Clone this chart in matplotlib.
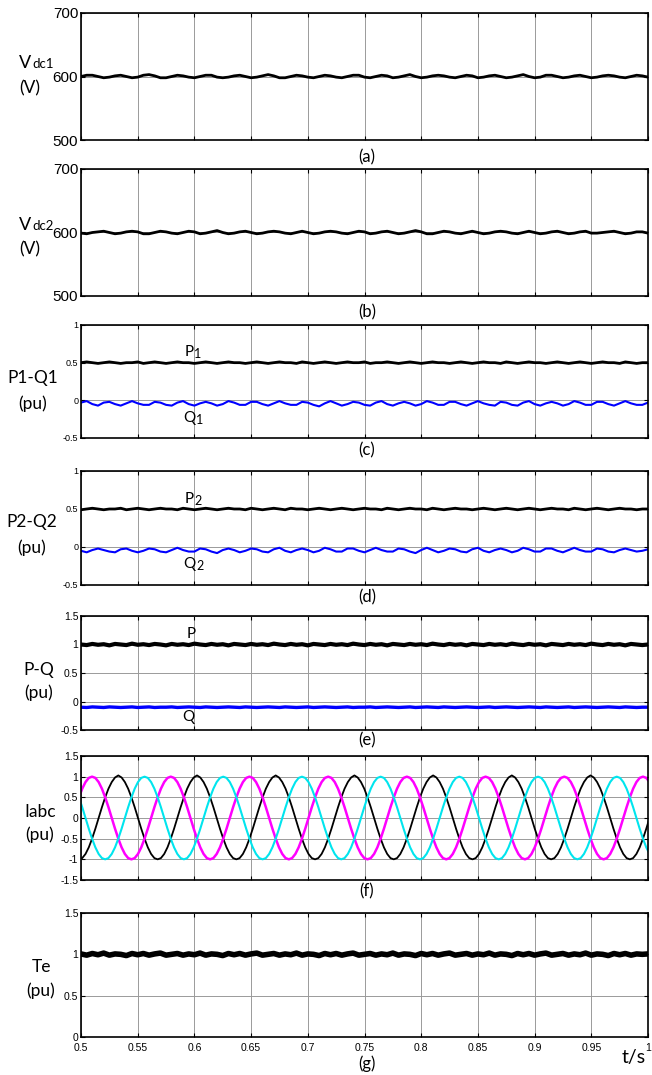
import numpy as np
import matplotlib
matplotlib.use('Agg')
import matplotlib.pyplot as plt

plt.rcParams['font.family'] = ['Liberation Sans', 'DejaVu Sans']

# ---------------- data ----------------
t_start, t_end = 0.5, 1.0
x_ticks = [0.5, 0.55, 0.6, 0.65, 0.7, 0.75, 0.8, 0.85, 0.9, 0.95, 1.0]
x_tick_labels = ['0.5', '0.55', '0.6', '0.65', '0.7', '0.75', '0.8', '0.85', '0.9', '0.95', '1']

vdc1 = [600,602,602,600,598, 599,601,602,600,598, 599,602,603,601,598, 598,600,602,601,599,
        598,600,602,602,599, 598,599,601,602,600, 598,599,601,603,601, 598,598,600,602,601,
        599,598,600,602,601, 599,598,600,602,602, 599,598,600,602,601, 598,599,601,603,600,
        598,599,601,602,601, 599,598,600,602,601, 598,599,601,602,600, 598,599,601,603,600,
        598,599,602,602,600, 598,599,601,602,600, 598,599,601,602,601, 599,598,600,602,601,
        599]
vdc2 = [599,598,600,601,602, 600,598,599,601,602, 601,598,598,600,602, 601,599,598,600,602,
        601,598,599,601,603, 600,598,599,601,602, 600,598,599,601,602, 601,599,598,600,602,
        600,598,599,601,602, 601,599,598,600,602, 601,598,599,601,602, 600,598,599,601,603,
        601,598,598,600,602, 601,599,598,600,602, 600,598,599,601,602, 601,599,598,600,602,
        600,598,599,601,602, 600,598,599,601,602, 599,599,600,601,602, 600,598,599,601,601,
        599]
p1 = [0.50,0.51,0.50,0.49,0.50,0.51,0.50,0.49,0.50,0.50,
      0.51,0.49,0.50,0.51,0.50,0.49,0.50,0.51,0.50,0.50,
      0.49,0.50,0.51,0.50,0.49,0.50,0.51,0.50,0.50,0.49,
      0.50,0.51,0.50,0.49,0.50,0.51,0.50,0.50,0.49,0.51,
      0.50,0.49,0.50,0.51,0.50,0.49,0.50,0.51,0.50,0.50,
      0.51,0.49,0.50,0.50,0.51,0.50,0.49,0.50,0.51,0.50,
      0.49,0.50,0.51,0.50,0.50,0.49,0.50,0.51,0.50,0.49,
      0.50,0.51,0.50,0.50,0.49,0.51,0.50,0.49,0.50,0.51,
      0.50,0.50,0.49,0.50,0.51,0.50,0.49,0.50,0.51,0.50,
      0.49,0.50,0.51,0.50,0.50,0.49,0.51,0.50,0.49,0.50,
      0.50]
q1 = [-0.03,-0.01,-0.05,-0.07,-0.03,-0.02,-0.05,-0.07,-0.04,-0.01,
      -0.04,-0.06,-0.06,-0.02,-0.03,-0.06,-0.07,-0.03,-0.01,-0.05,
      -0.07,-0.04,-0.02,-0.04,-0.07,-0.05,-0.01,-0.03,-0.06,-0.06,
      -0.02,-0.02,-0.05,-0.07,-0.04,-0.01,-0.04,-0.06,-0.06,-0.02,
      -0.03,-0.06,-0.08,-0.04,-0.01,-0.04,-0.07,-0.05,-0.02,-0.03,
      -0.06,-0.07,-0.03,-0.01,-0.05,-0.07,-0.04,-0.02,-0.04,-0.07,
      -0.05,-0.01,-0.03,-0.06,-0.06,-0.02,-0.02,-0.05,-0.07,-0.04,
      -0.01,-0.04,-0.06,-0.07,-0.02,-0.03,-0.06,-0.07,-0.03,-0.01,
      -0.05,-0.07,-0.04,-0.02,-0.04,-0.07,-0.05,-0.01,-0.03,-0.06,
      -0.06,-0.02,-0.02,-0.05,-0.07,-0.04,-0.01,-0.04,-0.06,-0.06,
      -0.03]
p2 = [0.49,0.50,0.51,0.50,0.49,0.50,0.50,0.51,0.49,0.50,
      0.51,0.50,0.49,0.50,0.51,0.50,0.50,0.49,0.51,0.50,
      0.49,0.50,0.51,0.50,0.49,0.50,0.51,0.50,0.50,0.49,
      0.51,0.50,0.49,0.50,0.51,0.50,0.49,0.51,0.50,0.50,
      0.49,0.50,0.51,0.50,0.49,0.50,0.51,0.50,0.49,0.50,
      0.51,0.50,0.50,0.49,0.51,0.50,0.49,0.50,0.51,0.50,
      0.50,0.49,0.51,0.50,0.49,0.50,0.51,0.50,0.50,0.49,
      0.50,0.51,0.50,0.49,0.50,0.51,0.50,0.49,0.50,0.51,
      0.50,0.49,0.50,0.51,0.50,0.50,0.49,0.51,0.50,0.49,
      0.50,0.51,0.50,0.49,0.50,0.51,0.50,0.50,0.49,0.50,
      0.50]
q2 = [-0.05,-0.07,-0.04,-0.02,-0.04,-0.06,-0.07,-0.03,-0.02,-0.05,
      -0.07,-0.05,-0.02,-0.03,-0.06,-0.07,-0.04,-0.01,-0.04,-0.06,
      -0.06,-0.02,-0.03,-0.06,-0.08,-0.04,-0.02,-0.04,-0.07,-0.05,
      -0.02,-0.03,-0.06,-0.07,-0.03,-0.01,-0.05,-0.07,-0.04,-0.02,
      -0.04,-0.07,-0.05,-0.01,-0.03,-0.06,-0.06,-0.02,-0.02,-0.05,
      -0.07,-0.04,-0.01,-0.04,-0.06,-0.06,-0.02,-0.03,-0.06,-0.08,
      -0.04,-0.01,-0.04,-0.07,-0.05,-0.02,-0.03,-0.06,-0.07,-0.03,
      -0.01,-0.05,-0.07,-0.04,-0.02,-0.04,-0.07,-0.05,-0.01,-0.03,
      -0.06,-0.06,-0.02,-0.02,-0.05,-0.07,-0.04,-0.01,-0.04,-0.06,
      -0.06,-0.02,-0.03,-0.06,-0.07,-0.04,-0.02,-0.04,-0.06,-0.05,
      -0.03]
p_total = [1.000,0.990,1.010,0.995,1.005,0.985,1.010,1.000,0.990,1.015,
           0.995,1.005,0.990,1.010,1.000,0.985,1.010,0.995,1.005,0.990,
           1.015,1.000,0.990,1.010,0.995,1.005,0.985,1.010,1.000,0.990,
           1.010,0.995,1.005,0.990,1.015,1.000,0.990,1.010,0.995,1.005,
           0.985,1.010,1.000,0.990,1.010,0.995,1.005,0.990,1.015,1.000,
           0.990,1.010,0.995,1.005,0.985,1.010,1.000,0.990,1.010,0.995,
           1.005,0.990,1.015,1.000,0.990,1.010,0.995,1.005,0.985,1.010,
           1.000,0.990,1.010,0.995,1.005,0.990,1.015,1.000,0.990,1.010,
           0.995,1.005,0.985,1.010,1.000,0.990,1.010,0.995,1.005,0.990,
           1.015,1.000,0.990,1.010,0.995,1.005,0.985,1.010,1.000,0.990,
           1.000]
q_total = [-0.100,-0.105,-0.095,-0.100,-0.105,-0.095,-0.100,-0.105,-0.100,-0.095,
           -0.105,-0.100,-0.095,-0.105,-0.100,-0.100,-0.095,-0.105,-0.100,-0.095,
           -0.100,-0.105,-0.095,-0.100,-0.105,-0.100,-0.095,-0.100,-0.105,-0.095,
           -0.100,-0.105,-0.100,-0.095,-0.100,-0.105,-0.095,-0.100,-0.105,-0.100,
           -0.095,-0.105,-0.100,-0.095,-0.100,-0.105,-0.100,-0.095,-0.105,-0.100,
           -0.100,-0.095,-0.105,-0.100,-0.095,-0.100,-0.105,-0.100,-0.095,-0.105,
           -0.100,-0.095,-0.100,-0.105,-0.095,-0.100,-0.105,-0.100,-0.095,-0.100,
           -0.105,-0.100,-0.095,-0.105,-0.100,-0.095,-0.100,-0.105,-0.100,-0.095,
           -0.100,-0.105,-0.095,-0.100,-0.105,-0.100,-0.095,-0.105,-0.100,-0.095,
           -0.100,-0.105,-0.100,-0.095,-0.100,-0.105,-0.095,-0.100,-0.105,-0.100,
           -0.100]
te = [1.005,0.990,1.010,0.995,1.015,0.990,1.005,1.000,0.985,1.010,
      0.995,1.010,0.990,1.005,1.015,0.990,1.000,1.010,0.990,1.005,
      0.995,1.015,0.990,1.005,1.000,0.985,1.010,0.995,1.010,0.990,
      1.005,1.015,0.990,1.000,1.010,0.990,1.005,0.995,1.015,0.990,
      1.005,1.000,0.985,1.010,0.995,1.010,0.990,1.005,1.015,0.990,
      1.000,1.010,0.990,1.005,0.995,1.015,0.990,1.005,1.000,0.985,
      1.010,0.995,1.010,0.990,1.005,1.015,0.990,1.000,1.010,0.990,
      1.005,0.995,1.015,0.990,1.005,1.000,0.985,1.010,0.995,1.010,
      0.990,1.005,1.015,0.990,1.000,1.010,0.990,1.005,0.995,1.015,
      0.990,1.005,1.000,0.985,1.010,0.995,1.010,0.990,1.005,1.000,
      1.005]

# phase currents, sampled every t_fast_step seconds from t_fast_start
t_fast_start = 0.4982
t_fast_step = 0.0028917
ia_magenta = [
    0.5,0.71,0.87,0.97,1.0,0.97,0.87,0.71,0.5,0.26,0.0,-0.26,-0.5,-0.71,-0.87,-0.97,-1.0,-0.97,-0.87,-0.71,-0.5,-0.26,0.0,0.26,
    0.5,0.71,0.87,0.97,1.0,0.97,0.87,0.71,0.5,0.26,0.0,-0.26,-0.5,-0.71,-0.87,-0.97,-1.0,-0.97,-0.87,-0.71,-0.5,-0.26,0.0,0.26,
    0.5,0.71,0.87,0.97,1.0,0.97,0.87,0.71,0.5,0.26,0.0,-0.26,-0.5,-0.71,-0.87,-0.97,-1.0,-0.97,-0.87,-0.71,-0.5,-0.26,0.0,0.26,
    0.5,0.71,0.87,0.97,1.0,0.97,0.87,0.71,0.5,0.26,0.0,-0.26,-0.5,-0.71,-0.87,-0.97,-1.0,-0.97,-0.87,-0.71,-0.5,-0.26,0.0,0.26,
    0.5,0.71,0.87,0.97,1.0,0.97,0.87,0.71,0.5,0.26,0.0,-0.26,-0.5,-0.71,-0.87,-0.97,-1.0,-0.97,-0.87,-0.71,-0.5,-0.26,0.0,0.26,
    0.5,0.71,0.87,0.97,1.0,0.97,0.87,0.71,0.5,0.26,0.0,-0.26,-0.5,-0.71,-0.87,-0.97,-1.0,-0.97,-0.87,-0.71,-0.5,-0.26,0.0,0.26,
    0.5,0.71,0.87,0.97,1.0,0.97,0.87,0.71,0.5,0.26,0.0,-0.26,-0.5,-0.71,-0.87,-0.97,-1.0,-0.97,-0.87,-0.71,-0.5,-0.26,0.0,0.26,
    0.5,0.71,0.87,0.97,1.0,0.97,0.87]
ib_black = [
    -1.0,-0.97,-0.87,-0.71,-0.5,-0.26,0.0,0.26,0.5,0.71,0.87,0.98,1.03,0.98,0.87,0.71,0.5,0.26,0.0,-0.26,-0.5,-0.71,-0.87,-0.97,
    -1.0,-0.97,-0.87,-0.71,-0.5,-0.26,0.0,0.26,0.5,0.71,0.87,0.98,1.03,0.98,0.87,0.71,0.5,0.26,0.0,-0.26,-0.5,-0.71,-0.87,-0.97,
    -1.0,-0.97,-0.87,-0.71,-0.5,-0.26,0.0,0.26,0.5,0.71,0.87,0.98,1.03,0.98,0.87,0.71,0.5,0.26,0.0,-0.26,-0.5,-0.71,-0.87,-0.97,
    -1.0,-0.97,-0.87,-0.71,-0.5,-0.26,0.0,0.26,0.5,0.71,0.87,0.98,1.03,0.98,0.87,0.71,0.5,0.26,0.0,-0.26,-0.5,-0.71,-0.87,-0.97,
    -1.0,-0.97,-0.87,-0.71,-0.5,-0.26,0.0,0.26,0.5,0.71,0.87,0.98,1.03,0.98,0.87,0.71,0.5,0.26,0.0,-0.26,-0.5,-0.71,-0.87,-0.97,
    -1.0,-0.97,-0.87,-0.71,-0.5,-0.26,0.0,0.26,0.5,0.71,0.87,0.98,1.03,0.98,0.87,0.71,0.5,0.26,0.0,-0.26,-0.5,-0.71,-0.87,-0.97,
    -1.0,-0.97,-0.87,-0.71,-0.5,-0.26,0.0,0.26,0.5,0.71,0.87,0.98,1.03,0.98,0.87,0.71,0.5,0.26,0.0,-0.26,-0.5,-0.71,-0.87,-0.97,
    -1.0,-0.97,-0.87,-0.71,-0.5,-0.26,0.0]
ic_cyan = [
    0.5,0.26,0.0,-0.26,-0.5,-0.71,-0.87,-0.97,-1.0,-0.97,-0.87,-0.71,-0.5,-0.26,0.0,0.26,0.5,0.71,0.87,0.97,1.0,0.97,0.87,0.71,
    0.5,0.26,0.0,-0.26,-0.5,-0.71,-0.87,-0.97,-1.0,-0.97,-0.87,-0.71,-0.5,-0.26,0.0,0.26,0.5,0.71,0.87,0.97,1.0,0.97,0.87,0.71,
    0.5,0.26,0.0,-0.26,-0.5,-0.71,-0.87,-0.97,-1.0,-0.97,-0.87,-0.71,-0.5,-0.26,0.0,0.26,0.5,0.71,0.87,0.97,1.0,0.97,0.87,0.71,
    0.5,0.26,0.0,-0.26,-0.5,-0.71,-0.87,-0.97,-1.0,-0.97,-0.87,-0.71,-0.5,-0.26,0.0,0.26,0.5,0.71,0.87,0.97,1.0,0.97,0.87,0.71,
    0.5,0.26,0.0,-0.26,-0.5,-0.71,-0.87,-0.97,-1.0,-0.97,-0.87,-0.71,-0.5,-0.26,0.0,0.26,0.5,0.71,0.87,0.97,1.0,0.97,0.87,0.71,
    0.5,0.26,0.0,-0.26,-0.5,-0.71,-0.87,-0.97,-1.0,-0.97,-0.87,-0.71,-0.5,-0.26,0.0,0.26,0.5,0.71,0.87,0.97,1.0,0.97,0.87,0.71,
    0.5,0.26,0.0,-0.26,-0.5,-0.71,-0.87,-0.97,-1.0,-0.97,-0.87,-0.71,-0.5,-0.26,0.0,0.26,0.5,0.71,0.87,0.97,1.0,0.97,0.87,0.71,
    0.5,0.26,0.0,-0.26,-0.5,-0.71,-0.87]

# ---------------- figure ----------------
W, H = 652, 1075
fig = plt.figure(figsize=(W / 100, H / 100), dpi=100)


def t_of(series):
    return np.linspace(t_start, t_end, len(series))


t_fast = t_fast_start + t_fast_step * np.arange(len(ia_magenta))

LBL = 'Lato'
AX_L, AX_R = 81, 648


def make_ax(y0, y1, ylim, yticks, yticklabels, ysize, show_x=False):
    ax = fig.add_axes([AX_L / W, 1 - y1 / H, (AX_R - AX_L) / W, (y1 - y0) / H])
    ax.set_xlim(t_start, t_end)
    ax.set_ylim(*ylim)
    ax.set_xticks(x_ticks)
    ax.set_yticks(yticks)
    ax.set_yticklabels(yticklabels)
    if show_x:
        ax.set_xticklabels(x_tick_labels)
    else:
        ax.set_xticklabels([])
    ax.tick_params(axis='both', direction='in', length=3, width=0.8,
                   top=True, right=True, colors='black')
    ax.tick_params(axis='y', labelsize=ysize, pad=2)
    ax.tick_params(axis='x', labelsize=7.5, pad=4)
    ax.grid(True, color='#9a9a9a', lw=0.7)
    ax.set_axisbelow(True)
    for s in ax.spines.values():
        s.set_linewidth(1.2)
        s.set_color('black')
    return ax


def ylabel(x, y_top, y_bot, top, bottom='(pu)', size=12.5):
    fig.text(x / W, 1 - y_top / H, top, ha='center', va='baseline',
             fontsize=size, family=LBL)
    fig.text(x / W, 1 - y_bot / H, bottom, ha='center', va='baseline',
             fontsize=size, family=LBL)


def panel_letter(letter, yb):
    fig.text(367 / W, 1 - yb / H, letter, ha='center', va='baseline',
             fontsize=12, family=LBL)


def sub_label(ax, x, y, main, sub):
    # main letter ends at x (data), subscript starts there, slightly lowered
    ax.text(x, y, main, ha='right', va='baseline', fontsize=11, family=LBL)
    ax.annotate(sub, xy=(x, y), xytext=(0.3, -1.5), textcoords='offset points',
                ha='left', va='baseline', fontsize=9, family=LBL)


# (a)
ax = make_ax(13, 140, (500, 700), [500, 600, 700], ['500', '600', '700'], 11)
ax.plot(t_of(vdc1), vdc1, color='black', lw=2.0)
fig.text(31 / W, 1 - 68 / H, 'V', ha='right', va='baseline', fontsize=13, family=LBL)
fig.text(32 / W, 1 - 68 / H, 'dc1', ha='left', va='baseline', fontsize=9.5, family=LBL)
fig.text(30 / W, 1 - 93 / H, '(V)', ha='center', va='baseline', fontsize=12.5, family=LBL)
panel_letter('(a)', 162)

# (b)
ax = make_ax(169, 296, (500, 700), [500, 600, 700], ['500', '600', '700'], 11)
ax.plot(t_of(vdc2), vdc2, color='black', lw=2.0)
fig.text(31 / W, 1 - 230 / H, 'V', ha='right', va='baseline', fontsize=13, family=LBL)
fig.text(32 / W, 1 - 230 / H, 'dc2', ha='left', va='baseline', fontsize=9.5, family=LBL)
fig.text(30 / W, 1 - 254 / H, '(V)', ha='center', va='baseline', fontsize=12.5, family=LBL)
panel_letter('(b)', 317)

# (c)
ax = make_ax(325, 438, (-0.5, 1), [-0.5, 0, 0.5, 1], ['-0.5', '0', '0.5', '1'], 6.5)
ax.plot(t_of(p1), p1, color='black', lw=2.0)
ax.plot(t_of(q1), q1, color='#0000ff', lw=1.5)
sub_label(ax, 0.5993, 0.588, 'P', '1')
sub_label(ax, 0.6010, -0.288, 'Q', '1')
ylabel(33, 383, 409, 'P1-Q1')
panel_letter('(c)', 455)

# (d)
ax = make_ax(471, 585, (-0.5, 1), [-0.5, 0, 0.5, 1], ['-0.5', '0', '0.5', '1'], 6.5)
ax.plot(t_of(p2), p2, color='black', lw=2.0)
ax.plot(t_of(q2), q2, color='#0000ff', lw=1.5)
sub_label(ax, 0.5993, 0.579, 'P', '2')
sub_label(ax, 0.6010, -0.276, 'Q', '2')
ylabel(32, 527, 553, 'P2-Q2')
panel_letter('(d)', 602)

# (e)
ax = make_ax(616, 730, (-0.5, 1.5), [-0.5, 0, 0.5, 1, 1.5],
             ['-0.5', '0', '0.5', '1', '1.5'], 7.5)
ax.plot(t_of(p_total), p_total, color='black', lw=3.0)
ax.plot(t_of(q_total), q_total, color='#0000ff', lw=2.4)
ax.text(0.597, 1.18, 'P', ha='center', va='center', fontsize=11, family=LBL)
ax.text(0.595, -0.28, 'Q', ha='center', va='center', fontsize=11, family=LBL)
ylabel(39, 675, 698, 'P-Q')
panel_letter('(e)', 745)

# (f)
ax = make_ax(756, 880, (-1.5, 1.5), [-1.5, -1, -0.5, 0, 0.5, 1, 1.5],
             ['-1.5', '-1', '-0.5', '0', '0.5', '1', '1.5'], 7.5)
ax.plot(t_fast, ib_black, color='black', lw=1.3)
ax.plot(t_fast, ia_magenta, color='#ff00ff', lw=1.8)
ax.plot(t_fast, ic_cyan, color='#00e5ee', lw=1.5)
ylabel(40, 817, 840, 'Iabc')
panel_letter('(f)', 896)

# (g)
ax = make_ax(913, 1037, (0, 1.5), [0, 0.5, 1, 1.5], ['0', '0.5', '1', '1.5'], 7.5, show_x=True)
ax.plot(t_of(te), te, color='black', lw=4.0)
ylabel(41, 972, 996, 'Te')
panel_letter('(g)', 1069)
fig.text(622 / W, 1 - 1063 / H, 't/s', ha='left', va='baseline', fontsize=14, family=LBL)

fig.savefig('out.png', dpi=100)
